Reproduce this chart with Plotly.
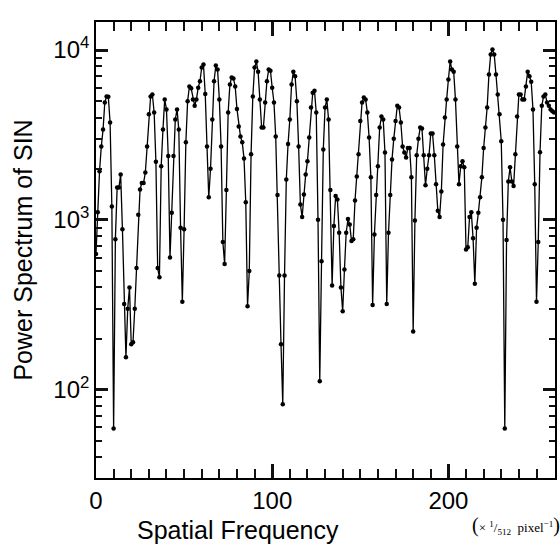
import plotly.graph_objects as go

# Power spectrum values, one per spatial frequency step (0..260)
power = [
    630, 1110, 1930, 2700, 3400, 4910, 5320, 5300, 3740, 1200,
    59, 770, 1550, 1550, 1850, 880, 320, 155, 300, 400,
    185, 190, 300, 520, 1070, 1510, 1650, 1650, 1900, 2700,
    4180, 5320, 5470, 4290, 2200, 520, 460, 2070, 3400, 5120,
    4470, 2380, 600, 1100, 2380, 3900, 4470, 3400, 900, 330,
    880, 2860, 5000, 6100, 5950, 5120, 4700, 5120, 6000, 6550,
    7890, 8220, 5500, 2700, 1360, 2000, 3900, 6550, 8100, 7670,
    5120, 2700, 740, 550, 1500, 4290, 6270, 6900, 6800, 6100,
    4500, 3550, 3100, 2860, 2300, 1270, 310, 500, 2430, 5320,
    7890, 8550, 7460, 5120, 3500, 3500, 4910, 6550, 7670, 7560,
    6000, 4910, 3100, 1400, 470, 185, 82, 470, 1730, 2800,
    3900, 6270, 7460, 7000, 5000, 2700, 1230, 1040, 1410, 1850,
    2210, 3050, 4590, 5600, 5750, 4290, 1000, 112, 570, 2600,
    4590, 5120, 3900, 1500, 410, 920, 1380, 1320, 840, 400,
    290, 510, 840, 1010, 940, 750, 770, 1300, 1800, 2430,
    3820, 4910, 5250, 5120, 4290, 3050, 1780, 315, 820, 1400,
    2070, 3500, 4060, 3900, 2490, 320, 840, 1400, 2270, 3000,
    3820, 4700, 4590, 3740, 2700, 2490, 2330, 2650, 2650, 1780,
    220, 990, 2400, 3000, 3500, 3450, 2400, 1600, 2000, 2400,
    3230, 3230, 2400, 1620, 1130, 1040, 1470, 2780, 4000, 5120,
    6700, 8550, 7670, 7460, 5120, 2700, 1620, 2070, 2210, 2040,
    670, 690, 1040, 1110, 780, 420, 900, 1100, 1360, 1780,
    2650, 3500, 4590, 7180, 9420, 10070, 9420, 7180, 5470, 4180,
    2900, 1000, 59, 760, 1680, 2040, 1680, 1580, 2430, 4060,
    5470, 5470, 5120, 5120, 6100, 7460, 7000, 6500, 4470, 1620,
    330, 740, 2500, 4700, 5320, 5470, 4910, 4700, 4470, 4360,
    4290,
]
frequency = list(range(len(power)))

x_range = [0, 260.5]
x_major = [0, 100, 200]
x_major_text = ["0", "100", "200"]
x_minor = [10, 20, 30, 40, 50, 60, 70, 80, 90, 110, 120, 130, 140, 150,
           160, 170, 180, 190, 210, 220, 230, 240, 250, 260]
y_range = [1.48, 4.165]
y_major = [100, 1000, 10000]
y_major_text = ["10<sup>2</sup>", "10<sup>3</sup>", "10<sup>4</sup>"]

FONT = "Liberation Sans, Arial, Helvetica, sans-serif"

fig = go.Figure()
fig.add_trace(go.Scatter(
    x=frequency, y=power, mode="lines+markers",
    line=dict(color="black", width=1.3),
    marker=dict(color="black", size=4.5),
    showlegend=False, hoverinfo="skip",
))

fig.update_layout(
    width=560, height=555,
    margin=dict(l=96, r=3, t=22, b=77),
    paper_bgcolor="white", plot_bgcolor="white",
    font=dict(family=FONT, color="black"),
)

fig.update_xaxes(
    range=x_range, tickvals=x_major, ticktext=x_major_text,
    ticks="inside", ticklen=14, tickwidth=2.5, tickcolor="#111111",
    minor=dict(tickvals=x_minor, ticks="inside", ticklen=9,
               tickwidth=2, tickcolor="#111111"),
    showline=True, linecolor="black", linewidth=1.6, mirror="allticks",
    showgrid=False, zeroline=False,
    tickfont=dict(size=24, family=FONT, color="black"),
)
fig.update_yaxes(
    type="log", range=y_range,
    tickvals=y_major, ticktext=y_major_text,
    ticks="inside", ticklen=12, tickwidth=2.5, tickcolor="#111111",
    minor=dict(dtick="D1", ticks="inside", ticklen=6,
               tickwidth=2, tickcolor="#111111"),
    showline=True, linecolor="black", linewidth=1.6, mirror="allticks",
    showgrid=False, zeroline=False,
    tickfont=dict(size=24, family=FONT, color="black"),
)

fig.add_annotation(
    text="Spatial Frequency", xref="paper", yref="paper",
    x=0.31, y=-0.114, xanchor="center", yanchor="middle",
    showarrow=False, font=dict(size=25, family=FONT),
)
fig.add_annotation(
    text="Power Spectrum of SIN", xref="paper", yref="paper",
    x=-0.16, y=0.5, xanchor="center", yanchor="middle", textangle=-90,
    showarrow=False, font=dict(size=25, family=FONT),
)
fig.add_annotation(
    text="<span style='font-size:20px'>(</span>× <sup>1</sup>/<sub>512</sub>  pixel<sup>−1</sup><span style='font-size:20px'>)</span>",
    xref="paper", yref="paper",
    x=0.915, y=-0.105, xanchor="center", yanchor="middle",
    showarrow=False, font=dict(size=13, family="Liberation Serif, Times New Roman, serif"),
)

fig.write_html("out.html", config={"displayModeBar": False},
               post_script="document.body.style.margin='0';")
